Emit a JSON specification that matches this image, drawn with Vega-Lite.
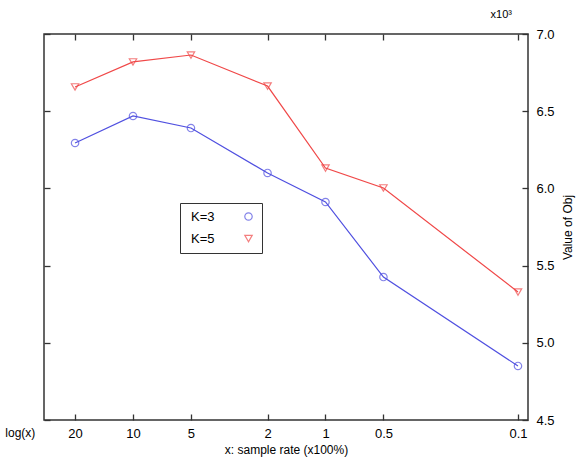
{
  "$schema": "https://vega.github.io/schema/vega-lite/v6.json",
  "autosize": "none",
  "padding": {"left": 44, "top": 34, "right": 53, "bottom": 44},
  "width": 484,
  "height": 386,
  "background": "white",
  "config": {
    "font": "Liberation Sans",
    "view": {"stroke": "#333333", "strokeWidth": 1.5},
    "axis": {"grid": false, "domainColor": "#333333", "tickColor": "#333333", "tickWidth": 1.3, "labelColor": "black", "titleColor": "black", "labelFont": "Liberation Sans", "titleFont": "Liberation Sans", "titleFontWeight": "normal"}
  },
  "title": {"text": "x10³", "anchor": "end", "frame": "group", "fontSize": 11, "fontWeight": "normal", "offset": 8, "dx": -16, "color": "black"},
  "data": {"values": [
    {"rate": 20, "value": 6294, "series": "K=3"},
    {"rate": 10, "value": 6469, "series": "K=3"},
    {"rate": 5, "value": 6391, "series": "K=3"},
    {"rate": 2, "value": 6100, "series": "K=3"},
    {"rate": 1, "value": 5912, "series": "K=3"},
    {"rate": 0.5, "value": 5426, "series": "K=3"},
    {"rate": 0.1, "value": 4850, "series": "K=3"},
    {"rate": 20, "value": 6657, "series": "K=5"},
    {"rate": 10, "value": 6819, "series": "K=5"},
    {"rate": 5, "value": 6864, "series": "K=5"},
    {"rate": 2, "value": 6663, "series": "K=5"},
    {"rate": 1, "value": 6132, "series": "K=5"},
    {"rate": 0.5, "value": 6003, "series": "K=5"},
    {"rate": 0.1, "value": 5329, "series": "K=5"}
  ]},
  "layer": [
    {
      "mark": {"type": "line", "strokeWidth": 1.2},
      "encoding": {
        "x": {"field": "rate", "type": "quantitative",
              "scale": {"type": "log", "domain": [0.0887, 29], "reverse": true, "nice": false},
              "axis": {"orient": "bottom", "values": [20, 10, 5, 2, 1, 0.5, 0.1], "tickSize": -6, "labelPadding": 13, "labelFontSize": 13, "labelFlush": false, "domain": false,
                       "title": "x: sample rate (x100%)", "titleFontSize": 12, "titlePadding": 4}},
        "y": {"field": "value", "type": "quantitative",
              "scale": {"domain": [4500, 7000], "nice": false, "zero": false},
              "axis": {"orient": "right", "values": [4500, 5000, 5500, 6000, 6500, 7000], "labelExpr": "format(datum.value/1000, '.1f')", "tickSize": -6, "labelPadding": 14, "labelFontSize": 13, "domain": false,
                       "title": "Value of Obj", "titleFontSize": 12, "titleAngle": 270, "titlePadding": 20}},
        "color": {"field": "series", "type": "nominal",
                  "scale": {"domain": ["K=3", "K=5"], "range": ["#5050e0", "#f04848"]},
                  "legend": {"orient": "none", "legendX": 136, "legendY": 169, "title": null, "strokeColor": "#333333", "padding": 7, "labelFontSize": 13, "symbolSize": 55, "symbolStrokeWidth": 1.2, "rowPadding": 8, "fillColor": "white", "symbolOffset": 55, "labelOffset": -64}}
      }
    },
    {
      "mark": {"type": "point", "filled": false, "size": 55, "strokeWidth": 1.2},
      "encoding": {
        "x": {"field": "rate", "type": "quantitative", "axis": {"orient": "top", "values": [20, 10, 5, 2, 1, 0.5, 0.1], "tickSize": -6, "labels": false, "domain": false, "title": null}},
        "y": {"field": "value", "type": "quantitative", "axis": {"orient": "left", "values": [4500, 5000, 5500, 6000, 6500, 7000], "tickSize": -6, "labels": false, "domain": false, "title": null}},
        "color": {"field": "series", "type": "nominal",
                  "legend": {"orient": "none", "legendX": 136, "legendY": 169, "title": null, "strokeColor": "#333333", "padding": 7, "labelFontSize": 13, "symbolSize": 55, "symbolStrokeWidth": 1.2, "rowPadding": 8, "fillColor": "white", "symbolOffset": 55, "labelOffset": -64}},
        "shape": {"field": "series", "type": "nominal",
                  "scale": {"domain": ["K=3", "K=5"], "range": ["circle", "triangle-down"]},
                  "legend": {"orient": "none", "legendX": 136, "legendY": 169, "title": null, "strokeColor": "#333333", "padding": 7, "labelFontSize": 13, "symbolSize": 55, "symbolStrokeWidth": 1.2, "rowPadding": 8, "fillColor": "white", "symbolOffset": 55, "labelOffset": -64}}
      }
    },
    {
      "data": {"values": [{"rate": 38.5, "value": 4500, "label": "log(x)"}]},
      "mark": {"type": "text", "clip": false, "dy": 13, "fontSize": 12, "color": "black", "font": "Liberation Sans"},
      "encoding": {
        "x": {"field": "rate", "type": "quantitative", "axis": null},
        "y": {"field": "value", "type": "quantitative", "axis": null},
        "text": {"field": "label"}
      }
    }
  ],
  "resolve": {"axis": {"x": "independent", "y": "independent"}}
}
